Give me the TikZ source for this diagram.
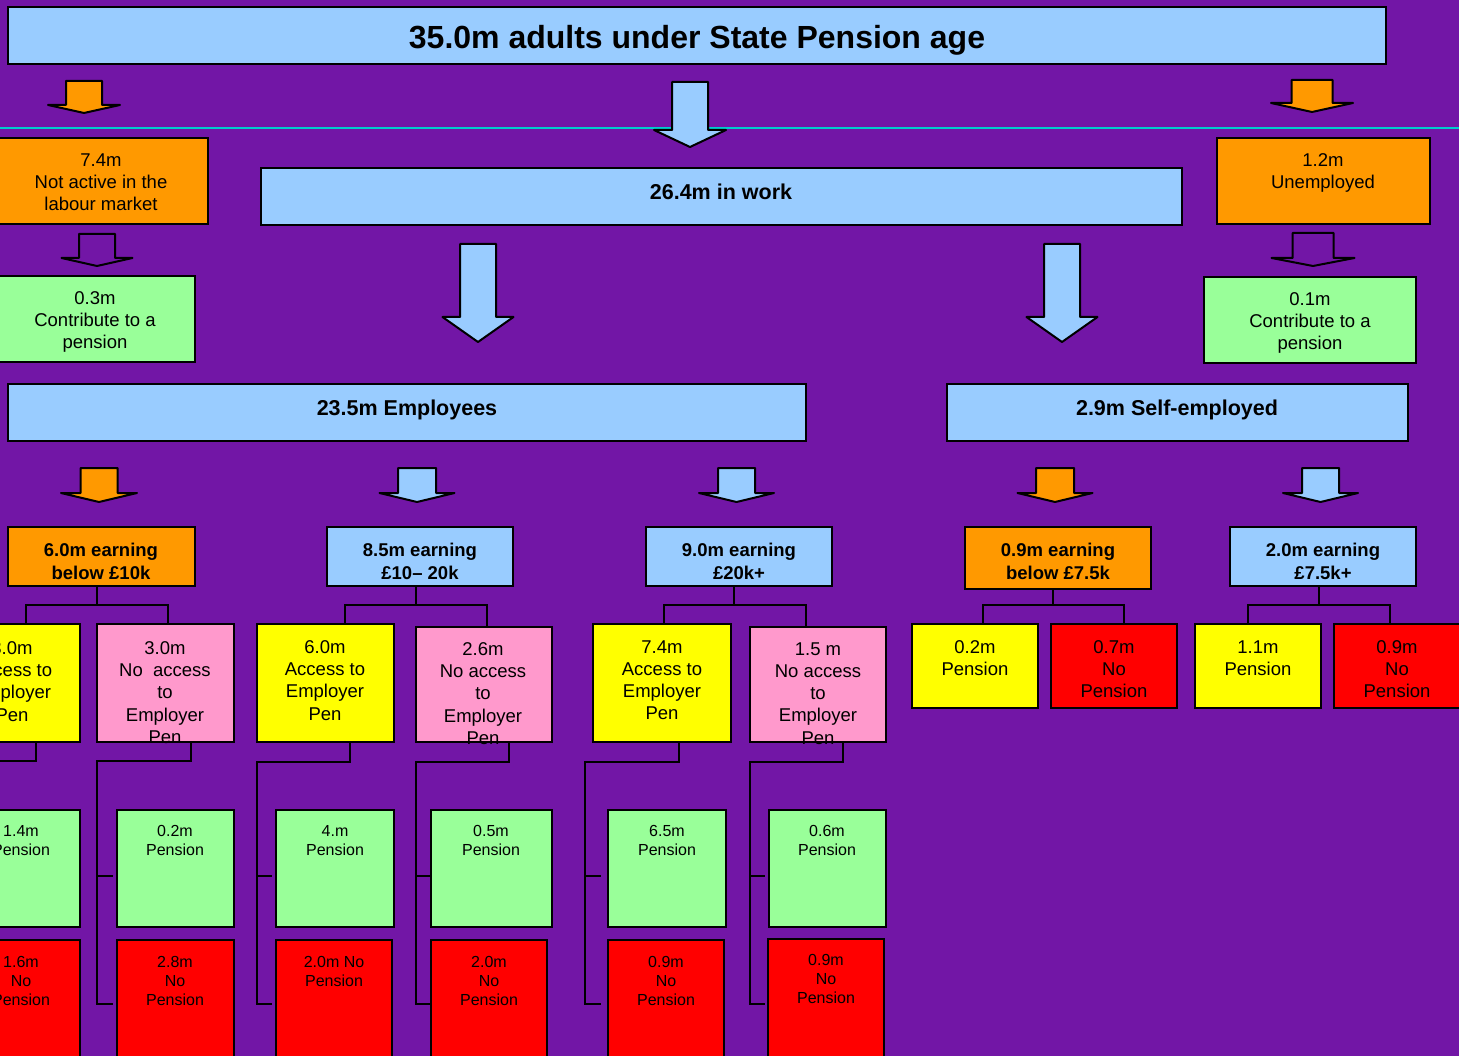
\documentclass[tikz,border=0pt]{standalone}
\usepackage{fontspec}
\setmainfont{Liberation Sans}
\usetikzlibrary{calc}
\definecolor{pu}{RGB}{114,22,166}
\definecolor{lb}{RGB}{153,204,255}
\definecolor{orn}{RGB}{255,153,0}
\definecolor{gr}{RGB}{153,255,153}
\definecolor{ye}{RGB}{255,255,0}
\definecolor{pk}{RGB}{255,153,204}
\definecolor{rd}{RGB}{255,0,0}
\definecolor{cy}{RGB}{0,204,204}
\tikzset{
 bx/.style={draw=black,line width=2.2pt,inner sep=0pt,outer sep=0pt,anchor=north west},
 txt/.style={anchor=north,align=center,inner sep=0pt,text=black},
 fA/.style={font=\fontsize{18.5}{22.2}\selectfont},
 fB/.style={font=\bfseries\fontsize{18.5}{22.2}\selectfont},
 fS/.style={font=\fontsize{16}{19}\selectfont},
 fM/.style={font=\bfseries\fontsize{21.5}{26}\selectfont},
 fT/.style={font=\bfseries\fontsize{32}{38}\selectfont},
 ln/.style={draw=black,line width=2pt},
 arr/.style={draw=black,line width=2pt,line join=round},
}
\newcommand\mybox[6]{\node[bx,fill=#6,minimum width={(#4)-(#2)},minimum height={(#5)-(#3)}] (#1) at (#2,#3) {};}
\newcommand\mytxt[5]{\node[txt,#4] (#1) at (#2,#3) {#5};}
\newcommand\barr[7]{\draw[arr,fill=#7] ({#1-#3},#2) -- ({#1+#3},#2) -- ({#1+#3},#4) -- ({#1+#5},#4) -- (#1,#6) -- ({#1-#5},#4) -- ({#1-#3},#4) -- cycle;}
\begin{document}
\begin{tikzpicture}[x=1pt,y=-1pt]
\useasboundingbox (0,0) rectangle (1459,1056);
\clip (0,0) rectangle (1459,1056);
\fill[pu] (-5,-5) rectangle (1465,1062);
\draw[cy,line width=2.5pt] (-5,128) -- (1465,128);
% boxes
\mybox{title}{8}{7}{1386}{64}{lb}
\mybox{na}{-6}{138}{208}{224}{orn}
\mybox{g03}{-15}{276}{195}{362}{gr}
\mybox{work}{261}{168}{1182}{225}{lb}
\mybox{un}{1217}{138}{1430}{224}{orn}
\mybox{g01}{1204}{277}{1416}{363}{gr}
\mybox{emp}{8}{384}{806}{441}{lb}
\mybox{self}{947}{384}{1408}{441}{lb}
\mybox{e1}{8}{527}{195}{586}{orn}
\mybox{e2}{327}{527}{513}{586}{lb}
\mybox{e3}{646}{527}{832}{586}{lb}
\mybox{e4}{965}{527}{1151}{589}{orn}
\mybox{e5}{1230}{527}{1416}{586}{lb}
\mybox{y1}{-56}{624}{80}{742}{ye}
\mybox{p1}{97}{624}{234}{742}{pk}
\mybox{y2}{257}{624}{394}{742}{ye}
\mybox{p2}{416}{627}{552}{742}{pk}
\mybox{y3}{593}{624}{731}{742}{ye}
\mybox{p3}{750}{627}{886}{742}{pk}
\mybox{y4}{912}{624}{1038}{708}{ye}
\mybox{r4}{1051}{624}{1177}{708}{rd}
\mybox{y5}{1195}{624}{1321}{708}{ye}
\mybox{r5}{1334}{624}{1460}{708}{rd}
\mybox{g1}{-38}{810}{80}{927}{gr}
\mybox{gp1}{117}{810}{234}{927}{gr}
\mybox{g2}{276}{810}{394}{927}{gr}
\mybox{gp2}{431}{810}{552}{927}{gr}
\mybox{g3}{608}{810}{726}{927}{gr}
\mybox{gp3}{769}{810}{886}{927}{gr}
\mybox{r1}{-38}{940}{80}{1070}{rd}
\mybox{rp1}{117}{940}{234}{1070}{rd}
\mybox{r2}{276}{940}{392}{1070}{rd}
\mybox{rp2}{431}{940}{547}{1070}{rd}
\mybox{r3}{608}{940}{724}{1070}{rd}
\mybox{rp3}{768}{939}{884}{1070}{rd}
% block arrows
\barr{84}{81}{18}{105}{36}{113}{orn}
\barr{690}{82}{18}{130}{36}{147}{lb}
\barr{1312}{80}{20.5}{103}{41}{112}{orn}
\barr{97}{234}{18}{258}{35.5}{266}{pu}
\barr{1313}{233}{20.5}{258}{41.5}{266}{pu}
\barr{478}{244}{18}{317}{35.5}{342}{lb}
\barr{1062}{244}{18}{317}{35.5}{342}{lb}
\barr{99}{468}{18.5}{493}{38}{502}{orn}
\barr{417}{468}{19}{493}{37.5}{502}{lb}
\barr{736.5}{468}{18.5}{493}{37.5}{502}{lb}
\barr{1055}{468}{19}{493}{37.5}{502}{orn}
\barr{1320.5}{468}{18.5}{493}{37.5}{502}{lb}
% upper tree connectors
\draw[ln] ([xshift=-4.5]e1.south) -- ++(0,19) coordinate (j1);
\draw[ln] ([xshift=82]y1.north west) |- (j1) -| ([xshift=71]p1.north west);
\draw[ln] ([xshift=-4]e2.south) -- ++(0,19) coordinate (j2);
\draw[ln] ([xshift=88]y2.north west) |- (j2) -| ([xshift=71]p2.north west);
\draw[ln] ([xshift=-5]e3.south) -- ++(0,19) coordinate (j3);
\draw[ln] ([xshift=71]y3.north west) |- (j3) -| ([xshift=56]p3.north west);
\draw[ln] ([xshift=-5]e4.south) -- ++(0,16) coordinate (j4);
\draw[ln] ([xshift=71]y4.north west) |- (j4) -| ([xshift=73]r4.north west);
\draw[ln] ([xshift=-4]e5.south) -- ++(0,19) coordinate (j5);
\draw[ln] ([xshift=53]y5.north west) |- (j5) -| ([xshift=56]r5.north west);
% lower tree connectors
\draw[ln] ([xshift=92]y1.south west) -- ++(0,19) -| ($(r1.north west)+(-19,64)$) -- ++(15,0);
\draw[ln] ($(g1.north west)+(-19,66)$) -- ++(15,0);
\draw[ln] ([xshift=94]p1.south west) -- ++(0,19) -| ($(rp1.north west)+(-20,64)$) -- ++(16,0);
\draw[ln] ($(gp1.north west)+(-20,66)$) -- ++(16,0);
\draw[ln] ([xshift=93]y2.south west) -- ++(0,20) -| ($(r2.north west)+(-19,64)$) -- ++(15,0);
\draw[ln] ($(g2.north west)+(-19,66)$) -- ++(15,0);
\draw[ln] ([xshift=93]p2.south west) -- ++(0,20) -| ($(rp2.north west)+(-15,64)$) -- ++(15,0);
\draw[ln] ($(gp2.north west)+(-15,66)$) -- ++(15,0);
\draw[ln] ([xshift=86]y3.south west) -- ++(0,20) -| ($(r3.north west)+(-23,64)$) -- ++(16,0);
\draw[ln] ($(g3.north west)+(-23,66)$) -- ++(16,0);
\draw[ln] ([xshift=93]p3.south west) -- ++(0,20) -| ($(rp3.north west)+(-18,65)$) -- ++(15,0);
\draw[ln] ($(gp3.north west)+(-19,66)$) -- ++(15,0);
% texts
\node[fT,inner sep=0pt,anchor=base] (tt) at (697,49) {35.0m adults under State Pension age};
\node[fM,inner sep=0pt,anchor=base] (tw) at (721,200) {26.4m in work};
\node[fM,inner sep=0pt,anchor=base] (te) at (407,416) {23.5m Employees};
\node[fM,inner sep=0pt,anchor=base] (ts) at (1177,416) {2.9m Self-employed};
\mytxt{tna}{101}{153.3}{fA}{7.4m\\Not active in the\\labour market}
\mytxt{tg03}{95}{291.3}{fA}{0.3m\\Contribute to a\\pension}
\mytxt{tun}{1323}{153.3}{fA}{1.2m\\Unemployed}
\mytxt{tg01}{1310}{292.3}{fA}{0.1m\\Contribute to a\\pension}
\mytxt{te1}{101}{543.3}{fB}{6.0m earning\\below £10k}
\mytxt{te2}{420}{543.3}{fB}{8.5m earning\\£10– 20k}
\mytxt{te3}{739}{543.3}{fB}{9.0m earning\\£20k+}
\mytxt{te4}{1058}{543.3}{fB}{0.9m earning\\below £7.5k}
\mytxt{te5}{1323}{543.3}{fB}{2.0m earning\\£7.5k+}
\mytxt{ty1}{12}{641.3}{fA}{3.0m\\Access to\\Employer\\Pen}
\mytxt{tp1}{165}{641.3}{fA}{3.0m\\No~ access\\to\\Employer\\Pen}
\mytxt{ty2}{325}{640.3}{fA}{6.0m\\Access to\\Employer\\Pen}
\mytxt{tp2}{483}{642.3}{fA}{2.6m\\No access\\to\\Employer\\Pen}
\mytxt{ty3}{662}{640.3}{fA}{7.4m\\Access to\\Employer\\Pen}
\mytxt{tp3}{818}{642.3}{fA}{1.5 m\\No access\\to\\Employer\\Pen}
\mytxt{ty4}{975}{640.3}{fA}{0.2m\\Pension}
\mytxt{tr4}{1114}{640.3}{fA}{0.7m\\No\\Pension}
\mytxt{ty5}{1258}{640.3}{fA}{1.1m\\Pension}
\mytxt{tr5}{1397}{640.3}{fA}{0.9m\\No\\Pension}
\mytxt{tg1}{21}{825.2}{fS}{1.4m\\Pension}
\mytxt{tgp1}{175}{825.2}{fS}{0.2m\\Pension}
\mytxt{tg2}{335}{825.2}{fS}{4.m\\Pension}
\mytxt{tgp2}{491}{825.2}{fS}{0.5m\\Pension}
\mytxt{tg3}{667}{825.2}{fS}{6.5m\\Pension}
\mytxt{tgp3}{827}{825.2}{fS}{0.6m\\Pension}
\mytxt{tr1}{21}{956.2}{fS}{1.6m\\No\\Pension}
\mytxt{trp1}{175}{956.2}{fS}{2.8m\\No\\Pension}
\mytxt{tr2}{334}{956.2}{fS}{2.0m No\\Pension}
\mytxt{trp2}{489}{956.2}{fS}{2.0m\\No\\Pension}
\mytxt{tr3}{666}{956.2}{fS}{0.9m\\No\\Pension}
\mytxt{trp3}{826}{954.2}{fS}{0.9m\\No\\Pension}
\end{tikzpicture}
\end{document}
